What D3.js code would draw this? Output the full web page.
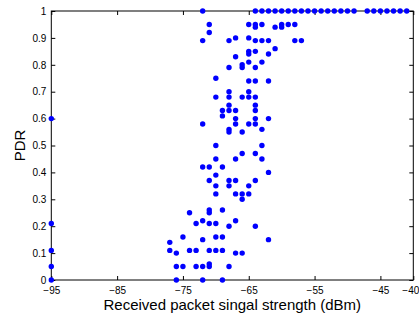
<!DOCTYPE html>
<html>
<head>
<meta charset="utf-8">
<script src="https://cdn.jsdelivr.net/npm/d3@7"></script>
<style>
  html, body { margin: 0; padding: 0; background: #fff; }
  svg { display: block; font-family: "Liberation Sans", Arial, sans-serif; }
  .axis text { font-size: 10px; fill: #000; }
  .axis line { stroke: #000; }
  .axis path { display: none; }
  .label { font-size: 15px; fill: #000; }
</style>
</head>
<body>
<div id="chart"></div>
<script>
// received signal strength (dBm) columns and the PDR values measured at each
const rssi = [-95, -77, -76, -75, -74, -73, -72, -71, -70, -69, -68, -67, -66, -65, -64, -63, -62, -61, -60, -59, -58, -57,
    -56, -55, -54, -53, -52, -51, -50, -49, -47, -46, -45, -44, -43, -42, -41];
const pdr = [
    [0.6, 0.21, 0.11, 0.05, 0],
    [0.14, 0.11],
    [0.10, 0.05, 0],
    [0.16, 0.05],
    [0.25, 0.11],
    [0.21, 0.11, 0.05],
    [1, 0.89, 0.58, 0.42, 0.22, 0.15, 0.05, 0],
    [0.95, 0.92, 0.42, 0.37, 0.26, 0.25, 0.21, 0.11, 0.06, 0.05],
    [0.75, 0.68, 0.50, 0.45, 0.39, 0.35, 0.32, 0.21, 0.16, 0.11],
    [0.63, 0.61, 0.42, 0.26, 0.16, 0.11, 0],
    [0.89, 0.79, 0.70, 0.68, 0.65, 0.63, 0.56, 0.55, 0.37, 0.35, 0.20, 0.05],
    [0.90, 0.83, 0.63, 0.60, 0.58, 0.45, 0.37, 0.32, 0.22, 0.10],
    [0.80, 0.79, 0.68, 0.55, 0.47, 0.32, 0.30, 0.10],
    [0.95, 0.90, 0.85, 0.84, 0.81, 0.74, 0.70, 0.68, 0.58, 0.35, 0.32],
    [1, 0.95, 0.94, 0.89, 0.85, 0.79, 0.74, 0.68, 0.65, 0.63, 0.60, 0.58, 0.47, 0.37, 0.20],
    [1, 0.95, 0.89, 0.81, 0.56, 0.50, 0.45],
    [1, 0.89, 0.84, 0.74, 0.60, 0.40, 0.15],
    [1, 0.94, 0.86],
    [1, 0.95, 0.94],
    [1, 0.95],
    [1, 0.95, 0.89],
    [1, 0.89],
    [1], [1], [1], [1], [1], [1], [1], [1],
    [1], [1], [1], [1], [1], [1], [1]
];
const xTicks = [-95, -85, -75, -65, -55, -45, -40];
const yTicks = [0, 0.1, 0.2, 0.3, 0.4, 0.5, 0.6, 0.7, 0.8, 0.9, 1];

const width = 419, height = 320;
const margin = { top: 11, right: 5.7, bottom: 40, left: 51.3 };

const svg = d3.select('#chart').append('svg')
    .attr('width', width)
    .attr('height', height);

const x = d3.scaleLinear().domain([-95, -40]).range([margin.left, width - margin.right]);
const y = d3.scaleLinear().domain([0, 1]).range([height - margin.bottom, margin.top]);

const points = [];
rssi.forEach((r, i) => pdr[i].forEach(p => points.push({ rssi: r, pdr: p })));

// axes, ticks pointing inward like matlab
const xAxis = svg.append('g').attr('class', 'axis')
    .attr('transform', `translate(0,${y(0)})`)
    .call(d3.axisBottom(x).tickValues(xTicks).tickSizeInner(-4).tickSizeOuter(0).tickPadding(7));
// last label sits at the window edge, keep it inside
xAxis.selectAll('.tick text')
    .filter(d => d === -40)
    .attr('text-anchor', 'end')
    .attr('x', 5.5);

svg.append('g').attr('class', 'axis')
    .attr('transform', `translate(0,${y(1)})`)
    .call(d3.axisTop(x).tickValues(xTicks).tickSizeInner(-4).tickSizeOuter(0).tickFormat(''));
svg.append('g').attr('class', 'axis')
    .attr('transform', `translate(${x(-95)},0)`)
    .call(d3.axisLeft(y).tickValues(yTicks).tickSizeInner(-4).tickSizeOuter(0).tickPadding(5)
        .tickFormat(d => String(+d.toFixed(1))));
svg.append('g').attr('class', 'axis')
    .attr('transform', `translate(${x(-40)},0)`)
    .call(d3.axisRight(y).tickValues(yTicks).tickSizeInner(-4).tickSizeOuter(0).tickFormat(''));

svg.append('rect')
    .attr('x', x(-95))
    .attr('y', y(1))
    .attr('width', x(-40) - x(-95))
    .attr('height', y(0) - y(1))
    .attr('fill', 'none')
    .attr('stroke', '#000')
    .attr('stroke-width', 1);

svg.append('g')
    .selectAll('circle')
    .data(points)
    .join('circle')
    .attr('cx', d => x(d.rssi))
    .attr('cy', d => y(d.pdr))
    .attr('r', 2.7)
    .attr('fill', '#0000ff');

svg.append('text')
    .attr('class', 'label')
    .attr('x', (x(-95) + x(-40)) / 2)
    .attr('y', 310)
    .attr('text-anchor', 'middle')
    .text('Received packet singal strength (dBm)');

svg.append('text')
    .attr('class', 'label')
    .attr('transform', `translate(25,${(y(0) + y(1)) / 2}) rotate(-90)`)
    .attr('text-anchor', 'middle')
    .text('PDR');
</script>
</body>
</html>
